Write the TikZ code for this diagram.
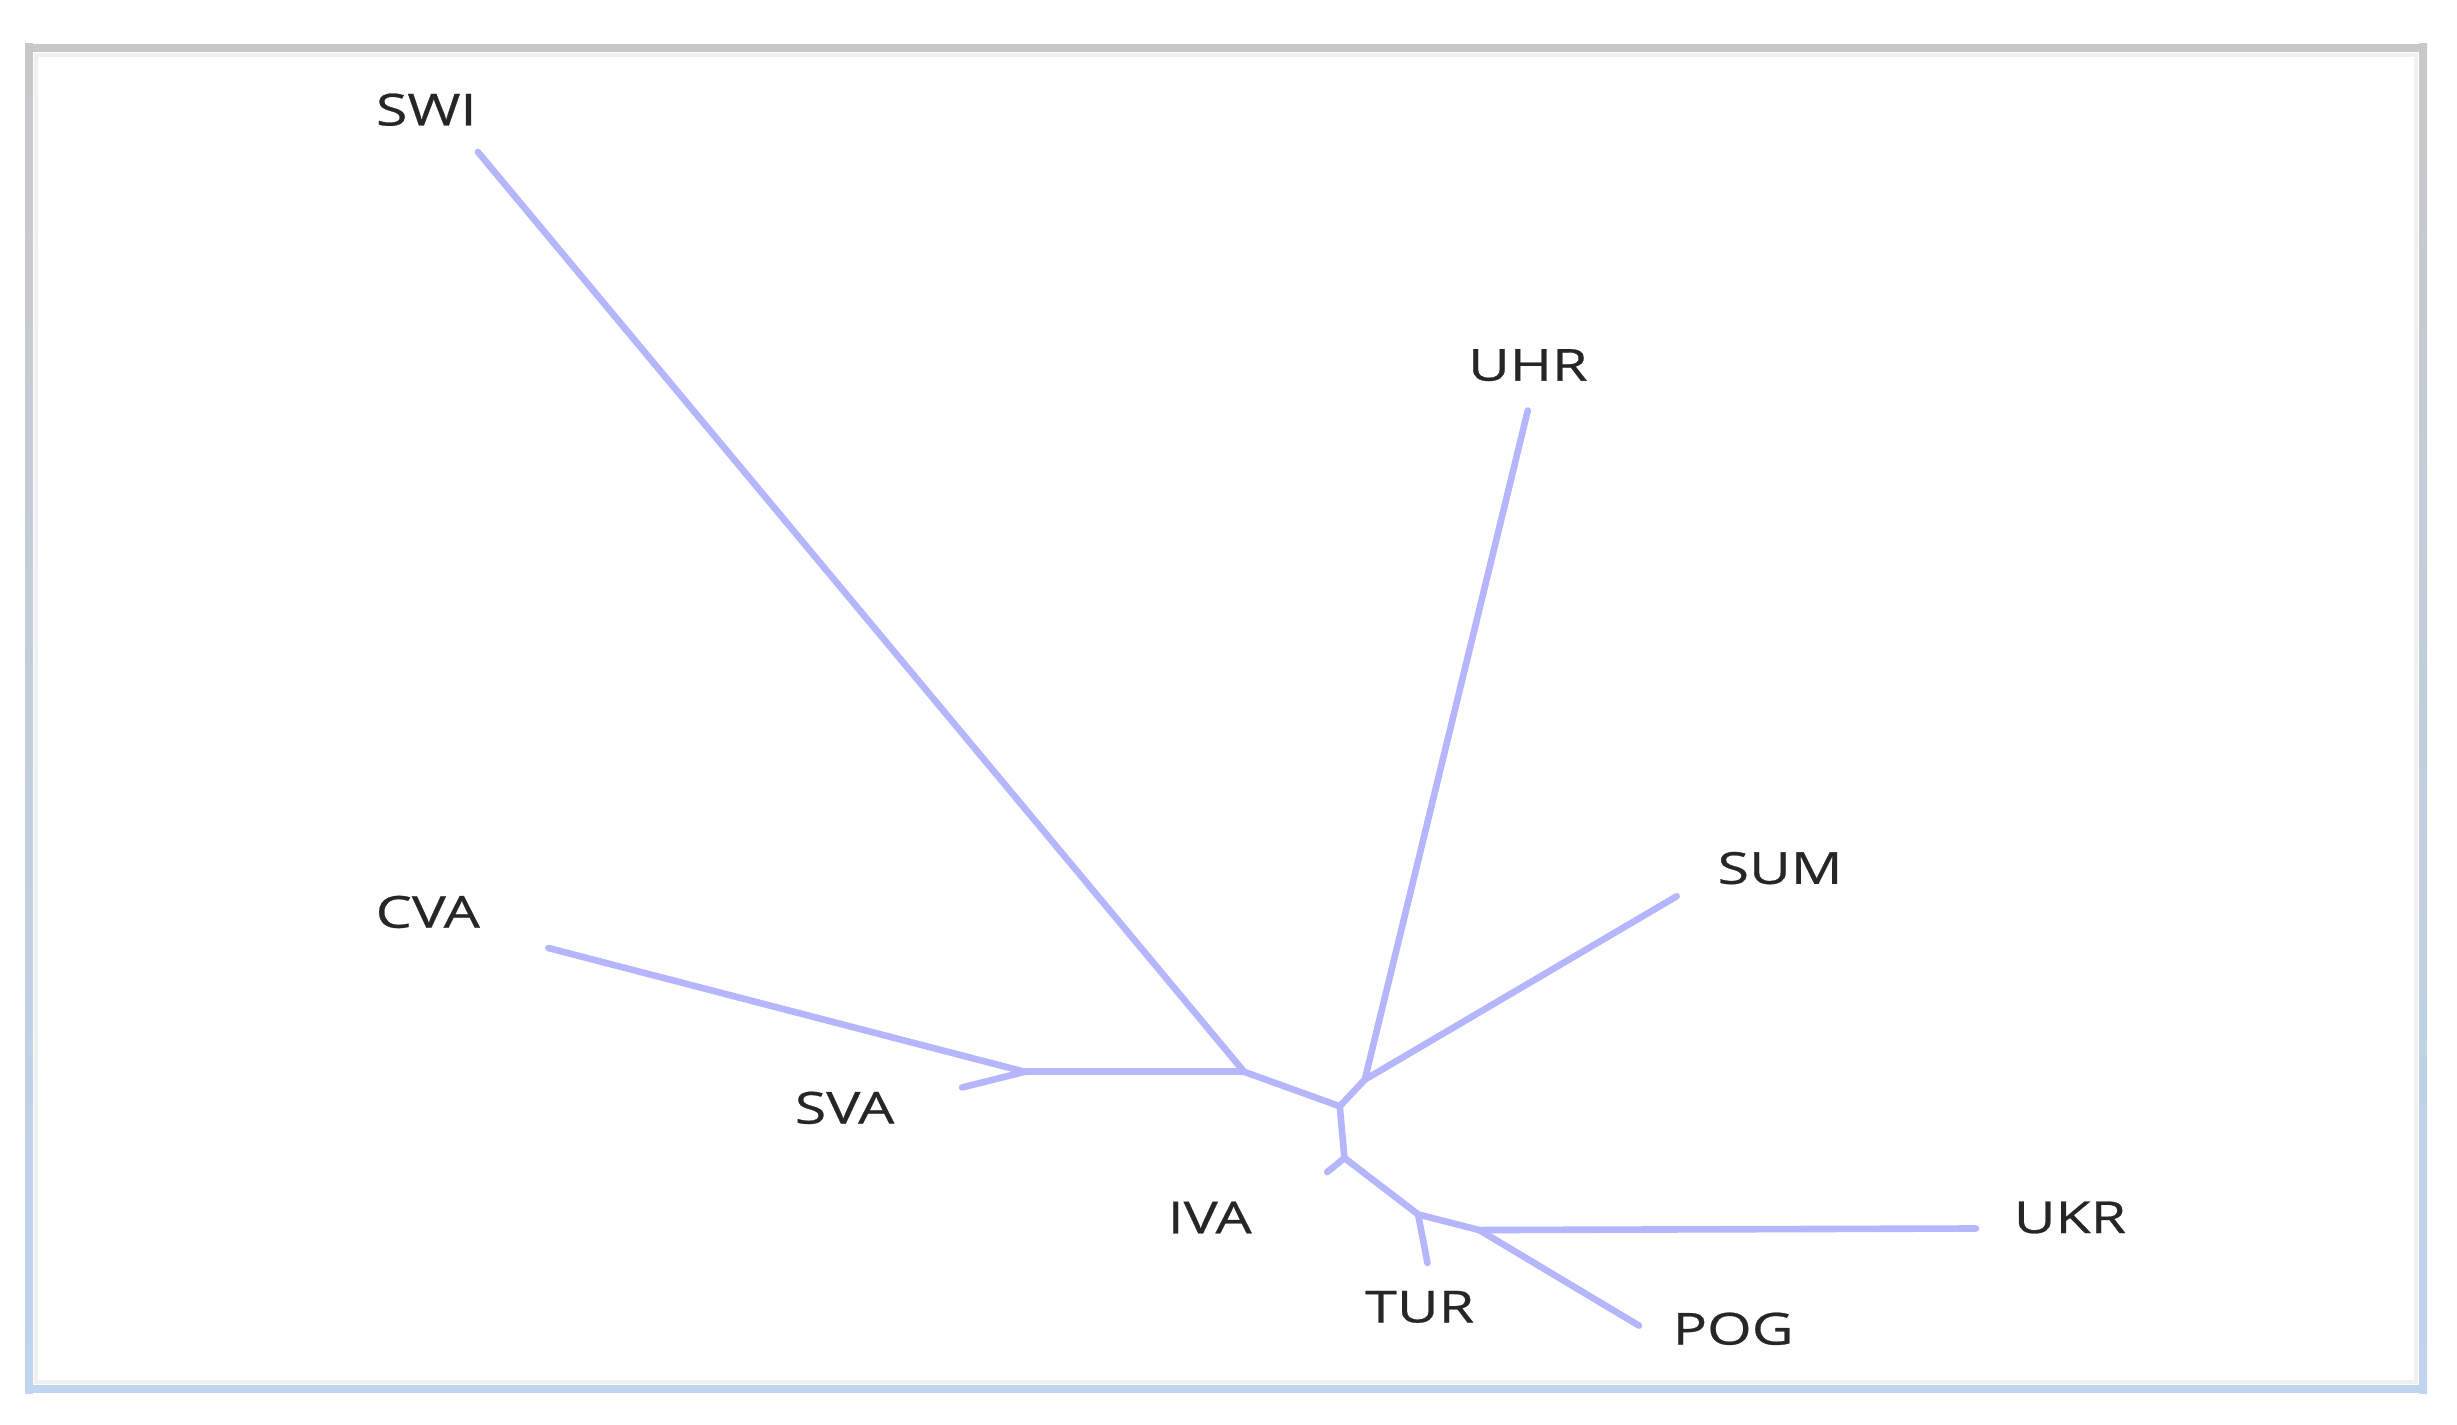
\documentclass[tikz,border=0pt]{standalone}
\usepackage{fontspec}
\newfontfamily\lblfont[FakeStretch=1.3,FakeBold=0.6]{Open Sans}
\definecolor{edgeblue}{RGB}{182,182,255}
\definecolor{framegray}{RGB}{200,200,200}
\definecolor{frameblue}{RGB}{190,212,240}
\tikzset{
  branch/.style={draw=edgeblue, line width=1.2pt, line cap=round, line join=round},
  taxon/.style={font=\lblfont\fontsize{8}{9}\selectfont, text=black!85, inner sep=0pt},
}
\begin{document}
\begin{tikzpicture}[x=0.01cm,y=-0.01cm]
\useasboundingbox (0,0) rectangle (1568,909);
% frame
\shade[top color=framegray, bottom color=frameblue] (16,28) rectangle (21,889);
\shade[top color=framegray, bottom color=frameblue] (1544,28) rectangle (1549,889);
\fill[framegray] (16,28) rectangle (1549,33);
\fill[frameblue] (16,884) rectangle (1549,889);
\draw[black!6, line width=0.8pt] (23,35) rectangle (1542,882);
% junctions
\coordinate (a) at (654,684);
\coordinate (b) at (794,684);
\coordinate (c) at (855,706);
\coordinate (d) at (871,689);
\coordinate (e) at (858,739);
\coordinate (f) at (905,775);
\coordinate (g) at (944,785);
% tips
\coordinate (tSWI) at (305,97);
\coordinate (tUHR) at (975,262);
\coordinate (tSUM) at (1070,572);
\coordinate (tCVA) at (350,605);
\coordinate (tSVA) at (614,694);
\coordinate (tIVA) at (847,748);
\coordinate (tTUR) at (911,806);
\coordinate (tUKR) at (1261,784);
\coordinate (tPOG) at (1046,846);
% labels
\node[taxon] (SWI) at (272,70) {SWI};
\node[taxon] (UHR) at (975,233) {UHR};
\node[taxon] (SUM) at (1136,554) {SUM};
\node[taxon] (CVA) at (273,582) {CVA};
\node[taxon] (SVA) at (539,707) {SVA};
\node[taxon] (IVA) at (772,777) {IVA};
\node[taxon] (TUR) at (906,834) {TUR};
\node[taxon] (UKR) at (1321,777) {UKR};
\node[taxon] (POG) at (1106,848) {POG};
% branches
\draw[branch] (tCVA) -- (a);
\draw[branch] (tSVA) -- (a);
\draw[branch] (a) -- (b);
\draw[branch] (tSWI) -- (b);
\draw[branch] (b) -- (c);
\draw[branch] (c) -- (d);
\draw[branch] (d) -- (tUHR);
\draw[branch] (d) -- (tSUM);
\draw[branch] (c) -- (e);
\draw[branch] (e) -- (tIVA);
\draw[branch] (e) -- (f);
\draw[branch] (f) -- (tTUR);
\draw[branch] (f) -- (g);
\draw[branch] (g) -- (tUKR);
\draw[branch] (g) -- (tPOG);
\end{tikzpicture}
\end{document}
